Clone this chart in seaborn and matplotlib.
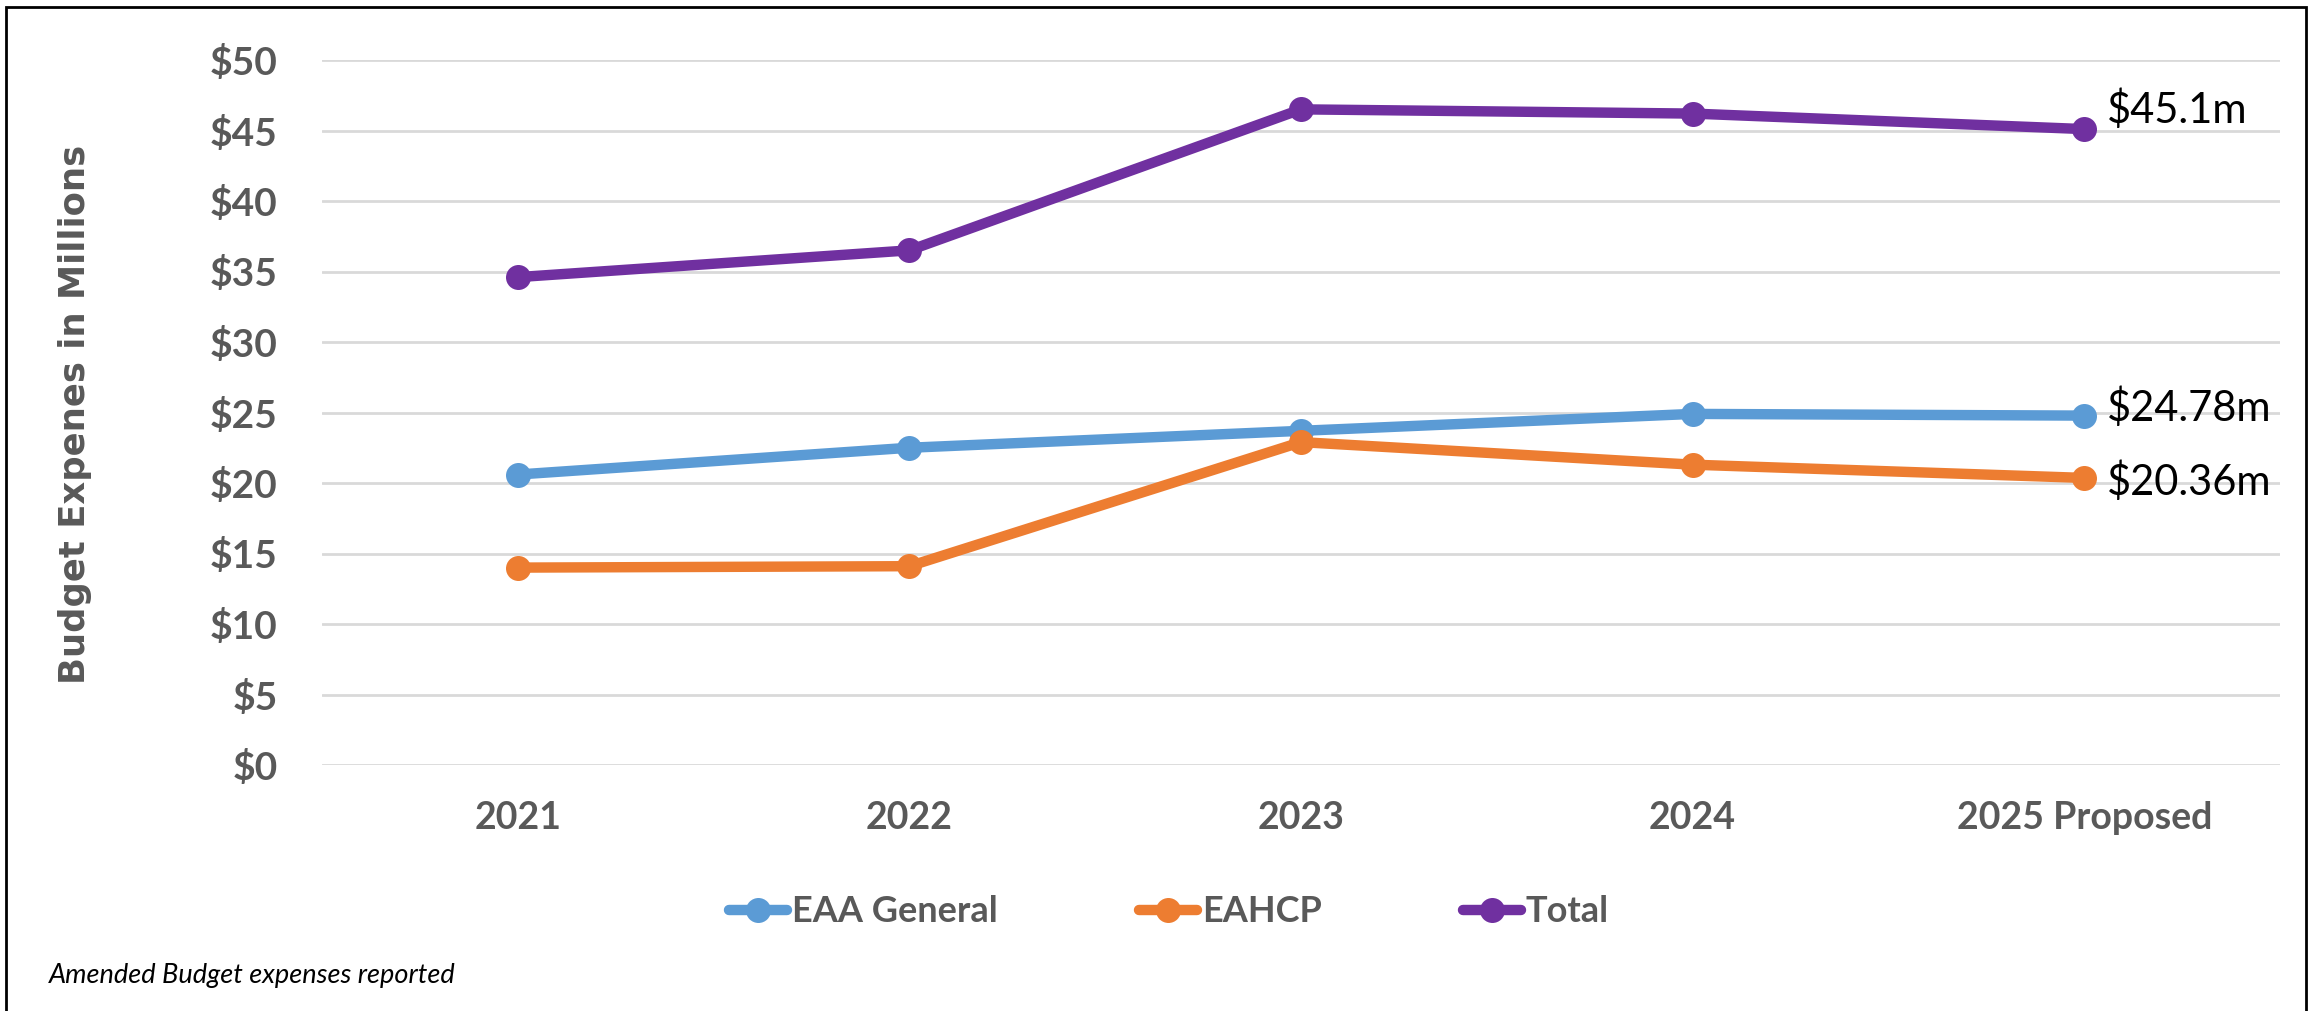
import pandas as pd
import matplotlib.pyplot as plt
import seaborn as sns
from matplotlib.lines import Line2D
from matplotlib.patches import Rectangle

# === Dati ===
years = ["2021", "2022", "2023", "2024", "2025 Proposed"]
eaa_general = [20.6, 22.5, 23.7, 24.9, 24.78]
eahcp = [14.0, 14.1, 22.9, 21.3, 20.36]
total = [34.6, 36.5, 46.5, 46.2, 45.1]
series_names = ["EAA General", "EAHCP", "Total"]
end_labels = ["$24.78m", "$20.36m", "$45.1m"]

colors = {"EAA General": "#5B9BD5", "EAHCP": "#ED7D31", "Total": "#7030A0"}
gray = "#595959"

df = pd.DataFrame({
    "year": years * 3,
    "value": eaa_general + eahcp + total,
    "series": [s for s in series_names for _ in years],
})

sns.set_style("white")
plt.rcParams["font.family"] = ["Lato", "DejaVu Sans"]

fig = plt.figure(figsize=(23.15, 10.11), dpi=100)
ax = fig.add_axes([322 / 2315, 1 - 765 / 1011, (2280 - 322) / 2315, 705 / 1011])

sns.lineplot(data=df, x="year", y="value", hue="series", palette=colors,
             marker="o", markersize=18, markeredgewidth=0, linewidth=7.5,
             sort=False, legend=False, ax=ax, zorder=3)

ax.set_xlim(-0.5, len(years) - 0.5)
ax.set_ylim(0, 50)
ax.set_yticks(range(0, 51, 5))
ax.set_yticklabels([f"${v}" for v in range(0, 51, 5)])
ax.yaxis.grid(True, color="#D9D9D9", linewidth=2)
ax.xaxis.grid(False)
for s in ax.spines.values():
    s.set_visible(False)

ax.tick_params(axis="y", length=0, pad=32, labelsize=28, labelcolor=gray)
ax.tick_params(axis="x", length=0, pad=26, labelsize=27, labelcolor=gray)
for lab in ax.get_xticklabels() + ax.get_yticklabels():
    lab.set_fontweight("bold")

ax.set_xlabel("")
ax.set_ylabel("Budget Expenes in Millions", family="DejaVu Sans", fontweight="bold",
              fontsize=25.5, color=gray, labelpad=0)
ax.yaxis.set_label_coords(-(322 - 92) / 1958, 0.5 + (765 - 415 - 352) / 705)

# etichette finali
last = len(years) - 1
offsets = {"EAA General": 6, "EAHCP": -3, "Total": 14}
for name, vals, txt in zip(series_names, [eaa_general, eahcp, total], end_labels):
    ax.annotate(txt, (last, vals[-1]), xytext=(16, offsets[name]), textcoords="offset points",
                ha="left", va="center", fontsize=30, color="black")

# legenda
handles = [Line2D([], [], color=colors[n], linewidth=7.5, marker="o", markersize=18,
                  markeredgewidth=0) for n in series_names]
leg = fig.legend(handles, series_names, loc="center", bbox_to_anchor=(0.505, 1 - 912 / 1011),
                 ncol=3, frameon=False, handlelength=1.6, handletextpad=0.15,
                 columnspacing=3.9, prop={"family": "Lato", "weight": "bold", "size": 26})
for t in leg.get_texts():
    t.set_color(gray)

fig.text(49 / 2315, 1 - 975 / 1011, "Amended Budget expenses reported", fontsize=19.5,
         style="italic", color="black", ha="left", va="center")

fig.patches.append(Rectangle((6 / 2315, -0.02), (2306 - 6) / 2315, 1.02 - 7 / 1011,
                             transform=fig.transFigure, fill=False, edgecolor="black",
                             linewidth=2))

plt.savefig("out.png", dpi=100)
plt.close()
